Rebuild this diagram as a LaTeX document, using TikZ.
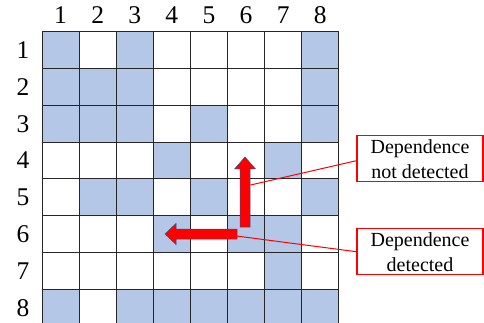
\documentclass[tikz,border=0pt]{standalone}
\usepackage{fontspec}
\setmainfont{Liberation Serif}
\usetikzlibrary{positioning}
\definecolor{cellblue}{RGB}{180,199,231}
\definecolor{arrowline}{RGB}{47,82,143}

\begin{document}
\begin{tikzpicture}[
  x=1pt,y=-1pt,
  cell/.style={draw=black!85,line width=0.9pt,minimum width=37.1pt,minimum height=36.8pt,inner sep=0pt,outer sep=0pt},
  filled/.style={cell,fill=cellblue},
  idx/.style={font=\fontsize{25.5}{28}\selectfont,inner sep=0pt},
  callout/.style={draw=red,line width=1.3pt,minimum width=126pt,minimum height=46pt,align=center,inner sep=2pt,font=\fontsize{20}{25}\selectfont},
  blockarrow/.style={fill=red,draw=arrowline,line width=0.5pt,line join=miter},
  leader/.style={red,line width=1pt}
]
  \useasboundingbox (0,0) rectangle (484,323);
  \foreach \r in {1,...,8}
    \foreach \c in {1,...,8}
      \node[cell] (c\r\c) at ({42+37.1*(\c-0.5)},{31.7+36.8*(\r-0.5)}) {};
  \foreach \r/\c in {1/1,1/3,1/8,2/1,2/2,2/3,2/8,3/1,3/2,3/3,3/5,3/8,4/4,4/7,5/2,5/3,5/5,5/8,6/4,6/6,6/7,7/7,8/1,8/3,8/4,8/5,8/6,8/7,8/8}
    \node[filled] at (c\r\c) {};
  \foreach \c in {1,...,8}
    \node[idx] (col\c) at ({42+37.1*(\c-0.5)},15) {\c};
  \foreach \r in {1,...,8}
    \node[idx] (row\r) at (23,{31.7+36.8*(\r-0.5)}) {\r};

  \draw[blockarrow] (240,227) -- (250,227) -- (250,169) -- (255.5,169) -- (245,157) -- (234.5,169) -- (240,169) -- cycle;
  \draw[blockarrow] (237,229) -- (237,239) -- (176,239) -- (176,244.5) -- (165,234) -- (176,223.5) -- (176,229) -- cycle;
  \coordinate (upside) at (250.5,185);
  \coordinate (leftend) at (236.5,236);

  \node[callout] (notdet) at (420,158.7) {Dependence\\not detected};
  \node[callout] (det) at (420,251.7) {Dependence\\detected};
  \draw[leader] ([yshift=-2pt]notdet.west) -- (upside);
  \draw[leader] (det.west) -- (leftend);
\end{tikzpicture}
\end{document}
